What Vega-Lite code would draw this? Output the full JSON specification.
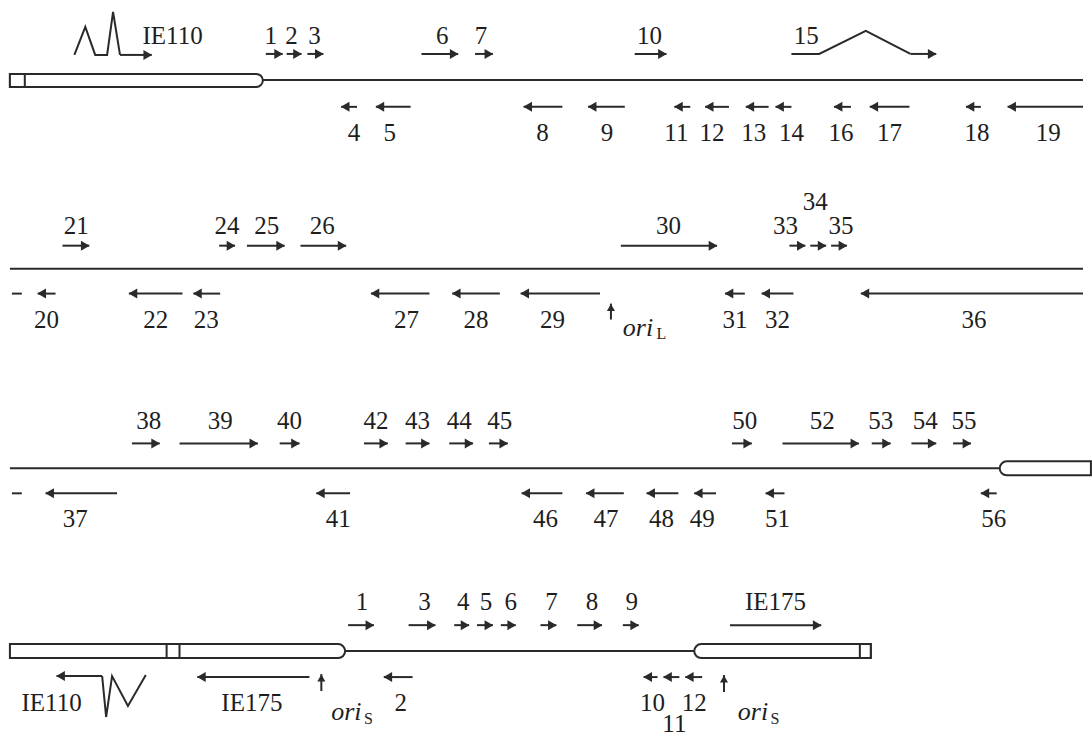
{
  "$schema": "https://vega.github.io/schema/vega-lite/v6.json",
  "width": 1092,
  "height": 737,
  "padding": 0,
  "autosize": {"type": "fit", "contains": "padding"},
  "background": "white",
  "config": {"view": {"stroke": null}},
  "datasets": {
    "backbone": [
      {"x1": 265, "x2": 1092, "y": 80},
      {"x1": 10, "x2": 1092, "y": 269},
      {"x1": 10, "x2": 1008, "y": 469},
      {"x1": 347, "x2": 700, "y": 652}
    ],
    "tubesR": [
      {"x1": 10, "x2": 265, "y1": 74, "y2": 87},
      {"x1": 10, "x2": 348, "y1": 645, "y2": 659}
    ],
    "tubesL": [
      {"x1": 1008, "x2": 1100, "y1": 462, "y2": 476},
      {"x1": 700, "x2": 878, "y1": 645, "y2": 659}
    ],
    "boxes": [
      {"x1": 10, "x2": 25, "y1": 74, "y2": 87},
      {"x1": 168, "x2": 181, "y1": 645, "y2": 659},
      {"x1": 867, "x2": 878, "y1": 645, "y2": 659}
    ],
    "paths": [
      {"p": "a", "o": 1, "x": 75, "y": 55},
      {"p": "a", "o": 2, "x": 86, "y": 27},
      {"p": "a", "o": 3, "x": 96, "y": 55},
      {"p": "a", "o": 4, "x": 108, "y": 55},
      {"p": "a", "o": 5, "x": 114, "y": 12},
      {"p": "a", "o": 6, "x": 121, "y": 55},
      {"p": "b", "o": 1, "x": 798, "y": 54},
      {"p": "b", "o": 2, "x": 826, "y": 54},
      {"p": "b", "o": 3, "x": 873, "y": 31},
      {"p": "b", "o": 4, "x": 918, "y": 54},
      {"p": "c", "o": 1, "x": 103, "y": 677},
      {"p": "c", "o": 2, "x": 107, "y": 718},
      {"p": "c", "o": 3, "x": 113, "y": 677},
      {"p": "c", "o": 4, "x": 129, "y": 707},
      {"p": "c", "o": 5, "x": 147, "y": 676}
    ],
    "arrows": [
      {"t": 268, "h": 285, "y": 54, "d": "f"},
      {"t": 289, "h": 304, "y": 54, "d": "f"},
      {"t": 310, "h": 326, "y": 54, "d": "f"},
      {"t": 425, "h": 462, "y": 54, "d": "f"},
      {"t": 479, "h": 497, "y": 54, "d": "f"},
      {"t": 640, "h": 672, "y": 54, "d": "f"},
      {"t": 121, "h": 153, "y": 55, "d": "f"},
      {"t": 918, "h": 944, "y": 54, "d": "f"},
      {"t": 360, "h": 344, "y": 107, "d": "r"},
      {"t": 414, "h": 379, "y": 107, "d": "r"},
      {"t": 567, "h": 528, "y": 107, "d": "r"},
      {"t": 630, "h": 593, "y": 107, "d": "r"},
      {"t": 696, "h": 680, "y": 107, "d": "r"},
      {"t": 735, "h": 711, "y": 107, "d": "r"},
      {"t": 775, "h": 752, "y": 107, "d": "r"},
      {"t": 798, "h": 782, "y": 107, "d": "r"},
      {"t": 858, "h": 841, "y": 107, "d": "r"},
      {"t": 917, "h": 877, "y": 107, "d": "r"},
      {"t": 989, "h": 974, "y": 107, "d": "r"},
      {"t": 1092, "h": 1016, "y": 107, "d": "r"},
      {"t": 63, "h": 90, "y": 246, "d": "f"},
      {"t": 221, "h": 237, "y": 246, "d": "f"},
      {"t": 249, "h": 287, "y": 246, "d": "f"},
      {"t": 303, "h": 349, "y": 246, "d": "f"},
      {"t": 626, "h": 723, "y": 246, "d": "f"},
      {"t": 796, "h": 812, "y": 246, "d": "f"},
      {"t": 817, "h": 833, "y": 246, "d": "f"},
      {"t": 838, "h": 854, "y": 246, "d": "f"},
      {"t": 12, "h": 22, "y": 294, "d": "n"},
      {"t": 56, "h": 38, "y": 294, "d": "r"},
      {"t": 184, "h": 130, "y": 294, "d": "r"},
      {"t": 222, "h": 195, "y": 294, "d": "r"},
      {"t": 433, "h": 374, "y": 294, "d": "r"},
      {"t": 504, "h": 456, "y": 294, "d": "r"},
      {"t": 605, "h": 525, "y": 294, "d": "r"},
      {"t": 751, "h": 731, "y": 294, "d": "r"},
      {"t": 800, "h": 768, "y": 294, "d": "r"},
      {"t": 1092, "h": 868, "y": 294, "d": "r"},
      {"t": 133, "h": 161, "y": 444, "d": "f"},
      {"t": 181, "h": 260, "y": 444, "d": "f"},
      {"t": 282, "h": 302, "y": 444, "d": "f"},
      {"t": 367, "h": 391, "y": 444, "d": "f"},
      {"t": 409, "h": 433, "y": 444, "d": "f"},
      {"t": 453, "h": 477, "y": 444, "d": "f"},
      {"t": 493, "h": 512, "y": 444, "d": "f"},
      {"t": 738, "h": 758, "y": 444, "d": "f"},
      {"t": 789, "h": 866, "y": 444, "d": "f"},
      {"t": 879, "h": 898, "y": 444, "d": "f"},
      {"t": 919, "h": 944, "y": 444, "d": "f"},
      {"t": 961, "h": 979, "y": 444, "d": "f"},
      {"t": 12, "h": 22, "y": 494, "d": "n"},
      {"t": 118, "h": 46, "y": 494, "d": "r"},
      {"t": 353, "h": 319, "y": 494, "d": "r"},
      {"t": 567, "h": 526, "y": 494, "d": "r"},
      {"t": 629, "h": 591, "y": 494, "d": "r"},
      {"t": 684, "h": 652, "y": 494, "d": "r"},
      {"t": 722, "h": 700, "y": 494, "d": "r"},
      {"t": 791, "h": 772, "y": 494, "d": "r"},
      {"t": 1005, "h": 989, "y": 494, "d": "r"},
      {"t": 351, "h": 377, "y": 626, "d": "f"},
      {"t": 412, "h": 439, "y": 626, "d": "f"},
      {"t": 458, "h": 473, "y": 626, "d": "f"},
      {"t": 481, "h": 497, "y": 626, "d": "f"},
      {"t": 505, "h": 520, "y": 626, "d": "f"},
      {"t": 545, "h": 561, "y": 626, "d": "f"},
      {"t": 582, "h": 607, "y": 626, "d": "f"},
      {"t": 628, "h": 644, "y": 626, "d": "f"},
      {"t": 736, "h": 828, "y": 626, "d": "f"},
      {"t": 103, "h": 57, "y": 677, "d": "r"},
      {"t": 312, "h": 199, "y": 678, "d": "r"},
      {"t": 416, "h": 387, "y": 678, "d": "r"},
      {"t": 663, "h": 649, "y": 678, "d": "r"},
      {"t": 685, "h": 669, "y": 678, "d": "r"},
      {"t": 708, "h": 691, "y": 678, "d": "r"}
    ],
    "ups": [
      {"x": 616, "t": 320, "h": 304},
      {"x": 324, "t": 692, "h": 675},
      {"x": 730, "t": 693, "h": 676}
    ],
    "labels": [
      {"x": 174, "y": 36, "t": "IE110"},
      {"x": 273, "y": 36, "t": "1"},
      {"x": 294, "y": 36, "t": "2"},
      {"x": 317, "y": 36, "t": "3"},
      {"x": 446, "y": 36, "t": "6"},
      {"x": 485, "y": 36, "t": "7"},
      {"x": 655, "y": 36, "t": "10"},
      {"x": 813, "y": 36, "t": "15"},
      {"x": 357, "y": 133, "t": "4"},
      {"x": 393, "y": 133, "t": "5"},
      {"x": 547, "y": 133, "t": "8"},
      {"x": 612, "y": 133, "t": "9"},
      {"x": 682, "y": 133, "t": "11"},
      {"x": 718, "y": 133, "t": "12"},
      {"x": 760, "y": 133, "t": "13"},
      {"x": 798, "y": 133, "t": "14"},
      {"x": 848, "y": 133, "t": "16"},
      {"x": 897, "y": 133, "t": "17"},
      {"x": 985, "y": 133, "t": "18"},
      {"x": 1057, "y": 133, "t": "19"},
      {"x": 77, "y": 226, "t": "21"},
      {"x": 229, "y": 226, "t": "24"},
      {"x": 269, "y": 226, "t": "25"},
      {"x": 325, "y": 226, "t": "26"},
      {"x": 674, "y": 226, "t": "30"},
      {"x": 792, "y": 226, "t": "33"},
      {"x": 822, "y": 202, "t": "34"},
      {"x": 848, "y": 226, "t": "35"},
      {"x": 47, "y": 320, "t": "20"},
      {"x": 157, "y": 320, "t": "22"},
      {"x": 208, "y": 320, "t": "23"},
      {"x": 410, "y": 320, "t": "27"},
      {"x": 480, "y": 320, "t": "28"},
      {"x": 557, "y": 320, "t": "29"},
      {"x": 741, "y": 320, "t": "31"},
      {"x": 784, "y": 320, "t": "32"},
      {"x": 982, "y": 320, "t": "36"},
      {"x": 150, "y": 422, "t": "38"},
      {"x": 222, "y": 422, "t": "39"},
      {"x": 292, "y": 422, "t": "40"},
      {"x": 379, "y": 422, "t": "42"},
      {"x": 421, "y": 422, "t": "43"},
      {"x": 463, "y": 422, "t": "44"},
      {"x": 504, "y": 422, "t": "45"},
      {"x": 751, "y": 422, "t": "50"},
      {"x": 829, "y": 422, "t": "52"},
      {"x": 888, "y": 422, "t": "53"},
      {"x": 933, "y": 422, "t": "54"},
      {"x": 972, "y": 422, "t": "55"},
      {"x": 76, "y": 520, "t": "37"},
      {"x": 341, "y": 520, "t": "41"},
      {"x": 550, "y": 520, "t": "46"},
      {"x": 611, "y": 520, "t": "47"},
      {"x": 667, "y": 520, "t": "48"},
      {"x": 708, "y": 520, "t": "49"},
      {"x": 784, "y": 520, "t": "51"},
      {"x": 1002, "y": 520, "t": "56"},
      {"x": 365, "y": 603, "t": "1"},
      {"x": 428, "y": 603, "t": "3"},
      {"x": 467, "y": 603, "t": "4"},
      {"x": 490, "y": 603, "t": "5"},
      {"x": 515, "y": 603, "t": "6"},
      {"x": 556, "y": 603, "t": "7"},
      {"x": 597, "y": 603, "t": "8"},
      {"x": 637, "y": 603, "t": "9"},
      {"x": 782, "y": 603, "t": "IE175"},
      {"x": 52, "y": 704, "t": "IE110"},
      {"x": 254, "y": 704, "t": "IE175"},
      {"x": 404, "y": 704, "t": "2"},
      {"x": 658, "y": 704, "t": "10"},
      {"x": 700, "y": 704, "t": "12"},
      {"x": 680, "y": 725, "t": "11"}
    ],
    "oris": [
      {"x": 628, "y": 328, "t": "ori"},
      {"x": 334, "y": 713, "t": "ori"},
      {"x": 744, "y": 713, "t": "ori"}
    ],
    "subs": [
      {"x": 662, "y": 334, "t": "L"},
      {"x": 367, "y": 720, "t": "S"},
      {"x": 777, "y": 720, "t": "S"}
    ]
  },
  "layer": [
    {
      "data": {"name": "backbone"},
      "mark": {"type": "rule", "color": "#2a2a2a", "strokeWidth": 2},
      "encoding": {
        "x": {"field": "x1", "type": "quantitative", "scale": {"domain": [0, 1092], "nice": false, "zero": false}, "axis": null},
        "x2": {"field": "x2"},
        "y": {"field": "y", "type": "quantitative", "scale": {"domain": [0, 737], "nice": false, "zero": false, "reverse": true}, "axis": null}
      }
    },
    {
      "data": {"name": "tubesR"},
      "mark": {"type": "rect", "fill": "white", "stroke": "#2a2a2a", "strokeWidth": 2, "cornerRadiusTopRight": 7, "cornerRadiusBottomRight": 7},
      "encoding": {
        "x": {"field": "x1", "type": "quantitative", "scale": {"domain": [0, 1092], "nice": false, "zero": false}, "axis": null},
        "x2": {"field": "x2"},
        "y": {"field": "y1", "type": "quantitative", "scale": {"domain": [0, 737], "nice": false, "zero": false, "reverse": true}, "axis": null},
        "y2": {"field": "y2"}
      }
    },
    {
      "data": {"name": "tubesL"},
      "mark": {"type": "rect", "fill": "white", "stroke": "#2a2a2a", "strokeWidth": 2, "cornerRadiusTopLeft": 7, "cornerRadiusBottomLeft": 7},
      "encoding": {
        "x": {"field": "x1", "type": "quantitative", "scale": {"domain": [0, 1092], "nice": false, "zero": false}, "axis": null},
        "x2": {"field": "x2"},
        "y": {"field": "y1", "type": "quantitative", "scale": {"domain": [0, 737], "nice": false, "zero": false, "reverse": true}, "axis": null},
        "y2": {"field": "y2"}
      }
    },
    {
      "data": {"name": "boxes"},
      "mark": {"type": "rect", "fill": "white", "stroke": "#2a2a2a", "strokeWidth": 2},
      "encoding": {
        "x": {"field": "x1", "type": "quantitative", "scale": {"domain": [0, 1092], "nice": false, "zero": false}, "axis": null},
        "x2": {"field": "x2"},
        "y": {"field": "y1", "type": "quantitative", "scale": {"domain": [0, 737], "nice": false, "zero": false, "reverse": true}, "axis": null},
        "y2": {"field": "y2"}
      }
    },
    {
      "data": {"name": "paths"},
      "mark": {"type": "line", "color": "#2a2a2a", "strokeWidth": 2, "strokeJoin": "miter"},
      "encoding": {
        "x": {"field": "x", "type": "quantitative", "scale": {"domain": [0, 1092], "nice": false, "zero": false}, "axis": null},
        "y": {"field": "y", "type": "quantitative", "scale": {"domain": [0, 737], "nice": false, "zero": false, "reverse": true}, "axis": null},
        "detail": {"field": "p", "type": "nominal"},
        "order": {"field": "o", "type": "quantitative"}
      }
    },
    {
      "data": {"name": "arrows"},
      "mark": {"type": "rule", "color": "#2a2a2a", "strokeWidth": 2},
      "encoding": {
        "x": {"field": "t", "type": "quantitative", "scale": {"domain": [0, 1092], "nice": false, "zero": false}, "axis": null},
        "x2": {"field": "h"},
        "y": {"field": "y", "type": "quantitative", "scale": {"domain": [0, 737], "nice": false, "zero": false, "reverse": true}, "axis": null}
      }
    },
    {
      "data": {"name": "arrows"},
      "transform": [{"filter": "datum.d === 'f'"}],
      "mark": {"type": "point", "shape": "triangle-right", "filled": true, "color": "#2a2a2a", "size": 100, "opacity": 1, "xOffset": -4},
      "encoding": {
        "x": {"field": "h", "type": "quantitative", "scale": {"domain": [0, 1092], "nice": false, "zero": false}, "axis": null},
        "y": {"field": "y", "type": "quantitative", "scale": {"domain": [0, 737], "nice": false, "zero": false, "reverse": true}, "axis": null}
      }
    },
    {
      "data": {"name": "arrows"},
      "transform": [{"filter": "datum.d === 'r'"}],
      "mark": {"type": "point", "shape": "triangle-left", "filled": true, "color": "#2a2a2a", "size": 100, "opacity": 1, "xOffset": 4},
      "encoding": {
        "x": {"field": "h", "type": "quantitative", "scale": {"domain": [0, 1092], "nice": false, "zero": false}, "axis": null},
        "y": {"field": "y", "type": "quantitative", "scale": {"domain": [0, 737], "nice": false, "zero": false, "reverse": true}, "axis": null}
      }
    },
    {
      "data": {"name": "ups"},
      "mark": {"type": "rule", "color": "#2a2a2a", "strokeWidth": 2},
      "encoding": {
        "x": {"field": "x", "type": "quantitative", "scale": {"domain": [0, 1092], "nice": false, "zero": false}, "axis": null},
        "y": {"field": "t", "type": "quantitative", "scale": {"domain": [0, 737], "nice": false, "zero": false, "reverse": true}, "axis": null},
        "y2": {"field": "h"}
      }
    },
    {
      "data": {"name": "ups"},
      "mark": {"type": "point", "shape": "triangle-up", "filled": true, "color": "#2a2a2a", "size": 65, "opacity": 1, "yOffset": 4},
      "encoding": {
        "x": {"field": "x", "type": "quantitative", "scale": {"domain": [0, 1092], "nice": false, "zero": false}, "axis": null},
        "y": {"field": "h", "type": "quantitative", "scale": {"domain": [0, 737], "nice": false, "zero": false, "reverse": true}, "axis": null}
      }
    },
    {
      "data": {"name": "labels"},
      "mark": {"type": "text", "font": "'Liberation Serif', 'Times New Roman', Times, serif", "fontSize": 25, "color": "#1e1e1e", "align": "center", "baseline": "middle"},
      "encoding": {
        "x": {"field": "x", "type": "quantitative", "scale": {"domain": [0, 1092], "nice": false, "zero": false}, "axis": null},
        "y": {"field": "y", "type": "quantitative", "scale": {"domain": [0, 737], "nice": false, "zero": false, "reverse": true}, "axis": null},
        "text": {"field": "t", "type": "nominal"}
      }
    },
    {
      "data": {"name": "oris"},
      "mark": {"type": "text", "font": "'Liberation Serif', 'Times New Roman', Times, serif", "fontSize": 26, "fontStyle": "italic", "color": "#1e1e1e", "align": "left", "baseline": "middle"},
      "encoding": {
        "x": {"field": "x", "type": "quantitative", "scale": {"domain": [0, 1092], "nice": false, "zero": false}, "axis": null},
        "y": {"field": "y", "type": "quantitative", "scale": {"domain": [0, 737], "nice": false, "zero": false, "reverse": true}, "axis": null},
        "text": {"field": "t", "type": "nominal"}
      }
    },
    {
      "data": {"name": "subs"},
      "mark": {"type": "text", "font": "'Liberation Serif', 'Times New Roman', Times, serif", "fontSize": 16, "color": "#1e1e1e", "align": "left", "baseline": "middle"},
      "encoding": {
        "x": {"field": "x", "type": "quantitative", "scale": {"domain": [0, 1092], "nice": false, "zero": false}, "axis": null},
        "y": {"field": "y", "type": "quantitative", "scale": {"domain": [0, 737], "nice": false, "zero": false, "reverse": true}, "axis": null},
        "text": {"field": "t", "type": "nominal"}
      }
    }
  ]
}
